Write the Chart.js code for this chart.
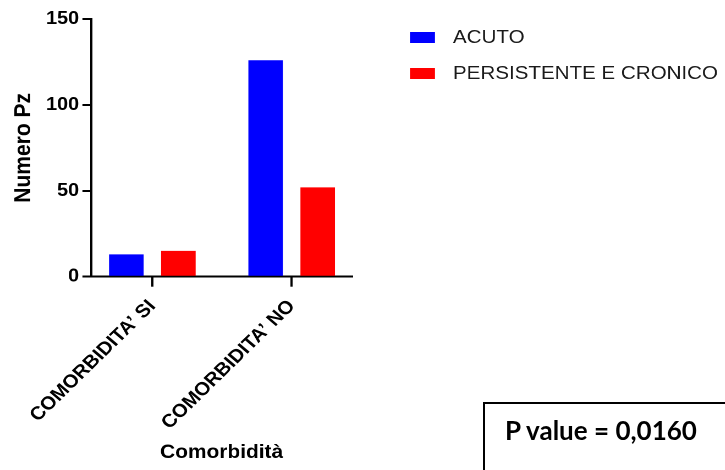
<!DOCTYPE html>
<html>
<head>
<meta charset="utf-8">
<script src="https://cdn.jsdelivr.net/npm/chart.js@4.4.1/dist/chart.umd.min.js"></script>
<style>
  html, body { margin: 0; padding: 0; background: #fff; width: 725px; height: 470px; overflow: hidden; }
  #wrap { position: absolute; left: 0; top: 0; width: 659px; height: 470px; transform: scaleX(1.1); transform-origin: 0 0; }
  #pbox { position: absolute; left: 483px; top: 402px; width: 260px; height: 100px; border: 2px solid #000; box-sizing: border-box; }
  #ptext { position: absolute; left: 505px; top: 414px; font: bold 26px Lato, sans-serif; color: #000; white-space: nowrap; }
</style>
</head>
<body>
<div id="wrap"><canvas id="c" width="659" height="470"></canvas></div>
<div id="pbox"></div>
<div id="ptext">P value = 0,0160</div>
<script>
// Patient counts by comorbidity and course of illness
const categories = ['COMORBIDITA\u2019 SI', 'COMORBIDITA\u2019 NO'];
const seriesNames = ['ACUTO', 'PERSISTENTE E CRONICO'];
const acuto = [13, 126];
const persistenteCronico = [15, 52];
const yTicks = [0, 50, 100, 150];

const FONT = '"Liberation Sans", Arial, sans-serif';

// Legend drawn beside the plot from the dataset labels and colours
const sideLegend = {
  id: 'sideLegend',
  afterDraw(chart) {
    const ctx = chart.ctx;
    ctx.save();
    ctx.font = '18.7px ' + FONT;
    ctx.textBaseline = 'middle';
    ctx.textAlign = 'left';
    chart.data.datasets.forEach((ds, i) => {
      const y = 32 + i * 36;
      ctx.fillStyle = ds.backgroundColor;
      ctx.fillRect(372.7, y, 22.7, 11);
      ctx.fillStyle = '#1a1a1a';
      ctx.fillText(ds.label, 411.8, y + 6);
    });
    ctx.restore();
  }
};

const toPoints = arr => arr.map((v, i) => ({ x: i, y: v }));

new Chart(document.getElementById('c'), {
  type: 'bar',
  data: {
    datasets: [
      { label: seriesNames[0], data: toPoints(acuto), backgroundColor: '#0000ff', borderWidth: 0 },
      { label: seriesNames[1], data: toPoints(persistenteCronico), backgroundColor: '#ff0000', borderWidth: 0 }
    ]
  },
  options: {
    responsive: false,
    animation: false,
    devicePixelRatio: 2,
    datasets: { bar: { categoryPercentage: 0.747, barPercentage: 0.664 } },
    layout: { padding: { left: 0, top: 19, right: 339, bottom: 0 } },
    plugins: { legend: { display: false }, tooltip: { enabled: false } },
    scales: {
      x: {
        type: 'linear',
        offset: false,
        min: -0.439,
        max: 1.433,
        afterBuildTicks: s => { s.ticks = categories.map((_, i) => ({ value: i })); },
        afterFit: s => { s.height = 193.3; },
        grid: { offset: false, drawOnChartArea: false, drawTicks: true, tickLength: 10, color: '#000', lineWidth: 2 },
        border: { display: true, color: '#000', width: 2 },
        ticks: {
          autoSkip: false, maxRotation: 47, minRotation: 47, padding: 9,
          color: '#000', font: { family: FONT, size: 18.5, weight: 'bold' },
          callback: v => categories[v]
        },
        title: {
          display: true, text: 'Comorbidità', color: '#000',
          font: { family: FONT, size: 19, weight: 'bold' },
          padding: { top: 0, bottom: 6 }
        }
      },
      y: {
        min: 0,
        max: 150,
        afterBuildTicks: s => { s.ticks = yTicks.map(v => ({ value: v })); },
        afterFit: s => { s.width = 82.9; },
        grid: { drawOnChartArea: false, drawTicks: true, tickLength: 8, color: '#000', lineWidth: 2 },
        border: { display: true, color: '#000', width: 2 },
        ticks: { padding: 3, color: '#000', font: { family: FONT, size: 18, weight: 'bold' } },
        title: {
          display: true, text: 'Numero Pz', color: '#000',
          font: { family: FONT, size: 21, weight: 'bold' },
          padding: { top: 9, bottom: 0 }
        }
      }
    }
  },
  plugins: [sideLegend]
});
</script>
</body>
</html>
